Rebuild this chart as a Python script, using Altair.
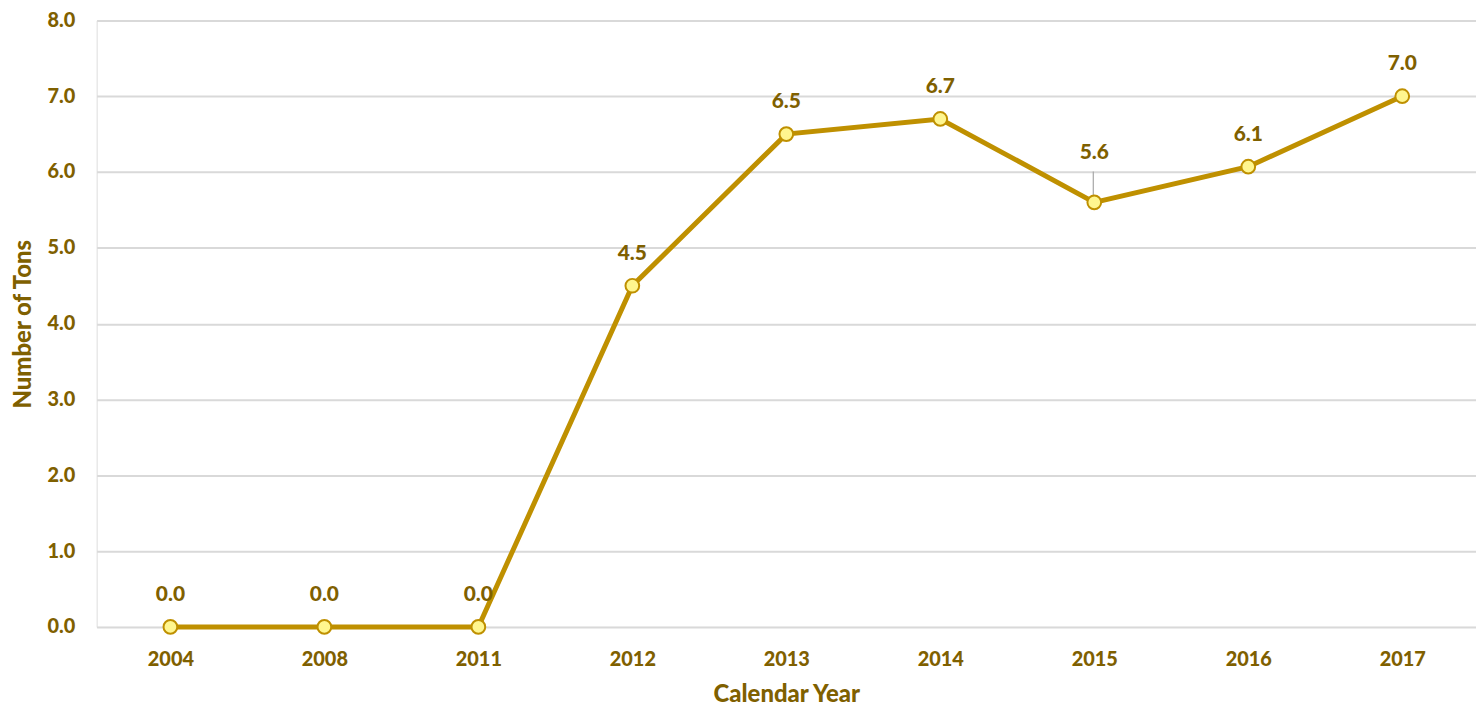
import altair as alt
import pandas as pd

years = ["2004", "2008", "2011", "2012", "2013", "2014", "2015", "2016", "2017"]
tons = [0.0, 0.0, 0.0, 4.5, 6.5, 6.7, 5.6, 6.07, 7.0]
leader_years = ["2015"]  # label pushed up with a leader line

df = pd.DataFrame({"year": years, "tons": tons})

FONT = "Lato"
W = 900
LABEL = "#7F6000"
LINE = "#BF9000"

base = alt.Chart(df).encode(
    x=alt.X("year:O", sort=years, title="Calendar Year",
            axis=alt.Axis(labelAngle=0, labelFontSize=20, labelFont=FONT, labelFontWeight=W,
                          labelColor=LABEL, titleFontSize=24, titleFont=FONT, titleFontWeight=W,
                          titleColor=LABEL, domain=False, ticks=False, labelPadding=23, titlePadding=13,
                          grid=False),
            scale=alt.Scale(type="point", padding=0.479)),
    y=alt.Y("tons:Q", title="Number of Tons",
            scale=alt.Scale(domain=[0, 8], nice=False),
            axis=alt.Axis(values=[0, 1, 2, 3, 4, 5, 6, 7, 8], format=".1f", labelFontSize=20,
                          labelFont=FONT, labelFontWeight=W, labelColor=LABEL,
                          titleFontSize=24, titleFont=FONT, titleFontWeight=W, titleColor=LABEL,
                          domain=False, ticks=False, labelPadding=22, titlePadding=11,
                          gridColor="#D9D9D9", gridWidth=2)),
)

is_leader = alt.FieldOneOfPredicate(field="year", oneOf=leader_years)

line = base.mark_line(color=LINE, strokeWidth=5)
leader = base.mark_rule(color="#A6A6A6", strokeWidth=1.2, y2Offset=-31, xOffset=-1).encode(
    y2="tons:Q").transform_filter(is_leader)
points = base.mark_point(filled=True, fill="#FFF68F", stroke=LINE, strokeWidth=2, size=190, opacity=1)
labels = base.mark_text(dy=-32, fontSize=21, font=FONT, fontWeight=W, color=LABEL).encode(
    text=alt.Text("tons:Q", format=".1f")).transform_filter(~is_leader)
labels_up = base.mark_text(dy=-50, fontSize=21, font=FONT, fontWeight=W, color=LABEL).encode(
    text=alt.Text("tons:Q", format=".1f")).transform_filter(is_leader)

chart = (line + leader + points + labels + labels_up).properties(
    width=1385, height=609,
    autosize=alt.AutoSizeParams(type="none"),
    padding={"left": 89, "top": 11, "right": 0, "bottom": 82},
).configure_view(stroke=None).configure(background="white")

chart.save("out.html", embed_options={"renderer": "svg", "actions": False})
